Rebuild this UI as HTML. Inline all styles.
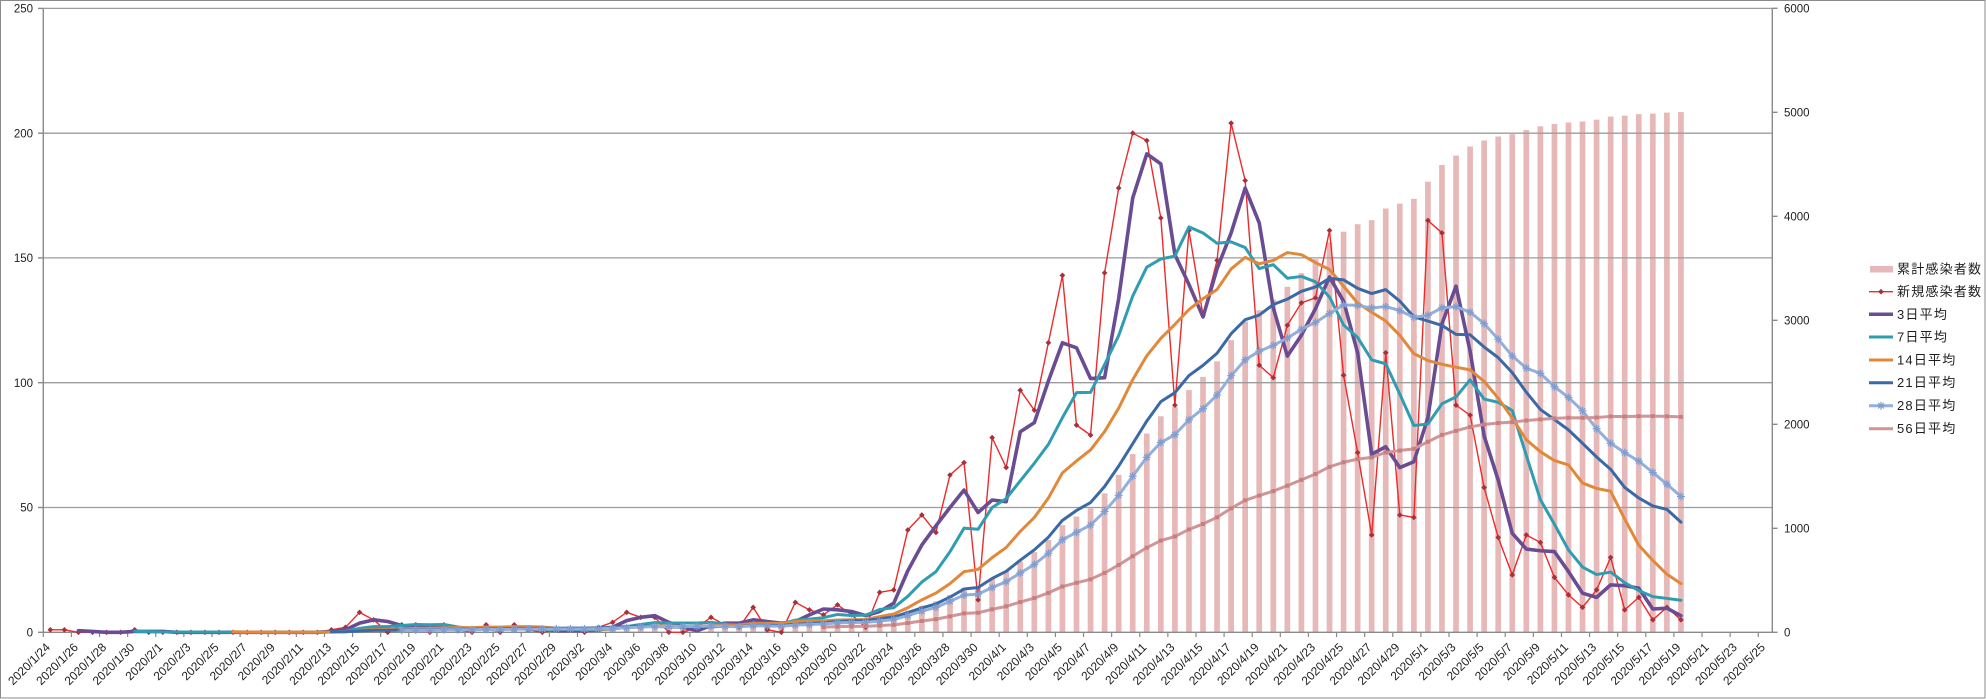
<!DOCTYPE html>
<html>
<head>
<meta charset="utf-8">
<style>
html,body{margin:0;padding:0;background:#fff;}
body{width:1986px;height:699px;overflow:hidden;}
svg{display:block;}
.ax{font-family:"Liberation Sans","Noto Sans CJK JP",sans-serif;font-size:11.5px;fill:#1e1e1e;}
.xl{font-family:"Liberation Sans","Noto Sans CJK JP",sans-serif;font-size:12px;fill:#1e1e1e;}
.lg{font-family:"Liberation Sans","Noto Sans CJK JP",sans-serif;font-size:13px;fill:#1e1e1e;letter-spacing:1.2px;}
</style>
</head>
<body>
<svg id="chart" width="1986" height="699" viewBox="0 0 1986 699" xmlns="http://www.w3.org/2000/svg">
<rect x="0.5" y="0.5" width="1984.5" height="697.5" fill="#fff" stroke="#8a8a8a" stroke-width="1"/>
<g id="bars"></g>
<!-- gridlines -->
<g stroke="#9c9c9c" stroke-width="1.3">
<line x1="43.3" y1="8.4" x2="1772.3" y2="8.4"/>
<line x1="43.3" y1="133.2" x2="1772.3" y2="133.2"/>
<line x1="43.3" y1="257.9" x2="1772.3" y2="257.9"/>
<line x1="43.3" y1="382.7" x2="1772.3" y2="382.7"/>
<line x1="43.3" y1="507.5" x2="1772.3" y2="507.5"/>
</g>
<!-- axes -->
<g stroke="#8a8a8a" stroke-width="1.4">
<line x1="43.3" y1="8.4" x2="43.3" y2="632.3"/>
<line x1="1772.3" y1="8.4" x2="1772.3" y2="632.3"/>
<line x1="43.3" y1="632.3" x2="1772.3" y2="632.3"/>
<line x1="38" y1="8.4" x2="43.3" y2="8.4"/>
<line x1="38" y1="133.2" x2="43.3" y2="133.2"/>
<line x1="38" y1="257.9" x2="43.3" y2="257.9"/>
<line x1="38" y1="382.7" x2="43.3" y2="382.7"/>
<line x1="38" y1="507.5" x2="43.3" y2="507.5"/>
<line x1="38" y1="632.3" x2="43.3" y2="632.3"/>
<line x1="1772.3" y1="8.3" x2="1777.5" y2="8.3"/>
<line x1="1772.3" y1="112.3" x2="1777.5" y2="112.3"/>
<line x1="1772.3" y1="216.3" x2="1777.5" y2="216.3"/>
<line x1="1772.3" y1="320.3" x2="1777.5" y2="320.3"/>
<line x1="1772.3" y1="424.3" x2="1777.5" y2="424.3"/>
<line x1="1772.3" y1="528.3" x2="1777.5" y2="528.3"/>
<line x1="1772.3" y1="632.3" x2="1777.5" y2="632.3"/>
</g>
<g id="xticks" stroke="#8a8a8a" stroke-width="1.2"></g>
<g id="lines"></g>

<!-- left axis labels -->
<g class="ax" text-anchor="end">
<text x="33" y="12.5">250</text>
<text x="33" y="137.3">200</text>
<text x="33" y="262">150</text>
<text x="33" y="386.8">100</text>
<text x="33" y="511.6">50</text>
<text x="33" y="636.4">0</text>
</g>
<!-- right axis labels -->
<g class="ax" text-anchor="start">
<text x="1784" y="12.4">6000</text>
<text x="1784" y="116.4">5000</text>
<text x="1784" y="220.4">4000</text>
<text x="1784" y="324.4">3000</text>
<text x="1784" y="428.4">2000</text>
<text x="1784" y="532.4">1000</text>
<text x="1784" y="636.4">0</text>
</g>
<!-- x axis labels -->
<g class="xl" text-anchor="end" transform="translate(-2.5,2)">
<text transform="translate(53.3,646) rotate(-45)">2020/1/24</text>
<text transform="translate(81.4,646) rotate(-45)">2020/1/26</text>
<text transform="translate(109.6,646) rotate(-45)">2020/1/28</text>
<text transform="translate(137.7,646) rotate(-45)">2020/1/30</text>
<text transform="translate(165.8,646) rotate(-45)">2020/2/1</text>
<text transform="translate(193.9,646) rotate(-45)">2020/2/3</text>
<text transform="translate(222.0,646) rotate(-45)">2020/2/5</text>
<text transform="translate(250.1,646) rotate(-45)">2020/2/7</text>
<text transform="translate(278.2,646) rotate(-45)">2020/2/9</text>
<text transform="translate(306.4,646) rotate(-45)">2020/2/11</text>
<text transform="translate(334.5,646) rotate(-45)">2020/2/13</text>
<text transform="translate(362.6,646) rotate(-45)">2020/2/15</text>
<text transform="translate(390.7,646) rotate(-45)">2020/2/17</text>
<text transform="translate(418.8,646) rotate(-45)">2020/2/19</text>
<text transform="translate(446.9,646) rotate(-45)">2020/2/21</text>
<text transform="translate(475.0,646) rotate(-45)">2020/2/23</text>
<text transform="translate(503.1,646) rotate(-45)">2020/2/25</text>
<text transform="translate(531.3,646) rotate(-45)">2020/2/27</text>
<text transform="translate(559.4,646) rotate(-45)">2020/2/29</text>
<text transform="translate(587.5,646) rotate(-45)">2020/3/2</text>
<text transform="translate(615.6,646) rotate(-45)">2020/3/4</text>
<text transform="translate(643.7,646) rotate(-45)">2020/3/6</text>
<text transform="translate(671.8,646) rotate(-45)">2020/3/8</text>
<text transform="translate(699.9,646) rotate(-45)">2020/3/10</text>
<text transform="translate(728.1,646) rotate(-45)">2020/3/12</text>
<text transform="translate(756.2,646) rotate(-45)">2020/3/14</text>
<text transform="translate(784.3,646) rotate(-45)">2020/3/16</text>
<text transform="translate(812.4,646) rotate(-45)">2020/3/18</text>
<text transform="translate(840.5,646) rotate(-45)">2020/3/20</text>
<text transform="translate(868.6,646) rotate(-45)">2020/3/22</text>
<text transform="translate(896.7,646) rotate(-45)">2020/3/24</text>
<text transform="translate(924.9,646) rotate(-45)">2020/3/26</text>
<text transform="translate(953.0,646) rotate(-45)">2020/3/28</text>
<text transform="translate(981.1,646) rotate(-45)">2020/3/30</text>
<text transform="translate(1009.2,646) rotate(-45)">2020/4/1</text>
<text transform="translate(1037.3,646) rotate(-45)">2020/4/3</text>
<text transform="translate(1065.4,646) rotate(-45)">2020/4/5</text>
<text transform="translate(1093.5,646) rotate(-45)">2020/4/7</text>
<text transform="translate(1121.7,646) rotate(-45)">2020/4/9</text>
<text transform="translate(1149.8,646) rotate(-45)">2020/4/11</text>
<text transform="translate(1177.9,646) rotate(-45)">2020/4/13</text>
<text transform="translate(1206.0,646) rotate(-45)">2020/4/15</text>
<text transform="translate(1234.1,646) rotate(-45)">2020/4/17</text>
<text transform="translate(1262.2,646) rotate(-45)">2020/4/19</text>
<text transform="translate(1290.3,646) rotate(-45)">2020/4/21</text>
<text transform="translate(1318.5,646) rotate(-45)">2020/4/23</text>
<text transform="translate(1346.6,646) rotate(-45)">2020/4/25</text>
<text transform="translate(1374.7,646) rotate(-45)">2020/4/27</text>
<text transform="translate(1402.8,646) rotate(-45)">2020/4/29</text>
<text transform="translate(1430.9,646) rotate(-45)">2020/5/1</text>
<text transform="translate(1459.0,646) rotate(-45)">2020/5/3</text>
<text transform="translate(1487.1,646) rotate(-45)">2020/5/5</text>
<text transform="translate(1515.3,646) rotate(-45)">2020/5/7</text>
<text transform="translate(1543.4,646) rotate(-45)">2020/5/9</text>
<text transform="translate(1571.5,646) rotate(-45)">2020/5/11</text>
<text transform="translate(1599.6,646) rotate(-45)">2020/5/13</text>
<text transform="translate(1627.7,646) rotate(-45)">2020/5/15</text>
<text transform="translate(1655.8,646) rotate(-45)">2020/5/17</text>
<text transform="translate(1683.9,646) rotate(-45)">2020/5/19</text>
<text transform="translate(1712.1,646) rotate(-45)">2020/5/21</text>
<text transform="translate(1740.2,646) rotate(-45)">2020/5/23</text>
<text transform="translate(1768.3,646) rotate(-45)">2020/5/25</text>
</g>

<!-- legend -->
<g>
<rect x="1870" y="266" width="23" height="6.5" fill="#E6B9B8"/>
<line x1="1869" y1="291.7" x2="1893" y2="291.7" stroke="#EE2A2A" stroke-width="1.4"/>
<rect x="1879" y="289.7" width="4" height="4" fill="#A8303A" transform="rotate(45 1881 291.7)"/>
<line x1="1869" y1="314.3" x2="1893" y2="314.3" stroke="#6A4C93" stroke-width="3.5"/>
<line x1="1869" y1="337" x2="1893" y2="337" stroke="#2F9DB1" stroke-width="3"/>
<line x1="1869" y1="360" x2="1893" y2="360" stroke="#E2883A" stroke-width="3"/>
<line x1="1869" y1="382.7" x2="1893" y2="382.7" stroke="#3B69A6" stroke-width="3"/>
<line x1="1869" y1="405.7" x2="1893" y2="405.7" stroke="#93AFDB" stroke-width="3"/>
<path d="M1881 401.7 V409.7 M1877 405.7 H1885 M1878.2 402.9 L1883.8 408.5 M1883.8 402.9 L1878.2 408.5" stroke="#7F9DCF" stroke-width="1.2"/>
<line x1="1869" y1="428.7" x2="1893" y2="428.7" stroke="#D29494" stroke-width="3"/>
</g>
<g class="lg">
<text x="1897" y="273.5">累計感染者数</text>
<text x="1897" y="296.2">新規感染者数</text>
<text x="1897" y="318.8">3日平均</text>
<text x="1897" y="341.5">7日平均</text>
<text x="1897" y="364.5">14日平均</text>
<text x="1897" y="387.2">21日平均</text>
<text x="1897" y="410.2">28日平均</text>
<text x="1897" y="433.2">56日平均</text>
</g>
</svg>
<script>
(function(){
var d=[1,1,0,0,0,0,1,0,
0,0,0,0,0,0,0,0,0,0,0,0,1,2,8,5,0,3,3,0,3,1,0,3,0,3,1,0,1,
1,0,2,4,8,6,6,0,0,2,6,3,2,10,1,0,12,9,7,11,7,2,16,17,41,47,40,63,68,13,78,
66,97,89,116,143,83,79,144,178,200,197,166,91,161,127,149,204,181,107,102,123,132,134,161,103,72,39,112,47,46,
165,160,91,87,58,38,23,39,36,22,15,10,17,30,9,14,5,10,5];
function X(i){return 43.3+14.057*(i+0.5);}
function Y(v){return 632.3-v*2.496;}
function YR(c){return 632.3-c*0.104;}
var bars="",cum=0,i;
for(i=0;i<d.length;i++){cum+=d[i];var y=YR(cum);bars+='<rect x="'+(X(i)-2.85).toFixed(2)+'" y="'+y.toFixed(2)+'" width="5.7" height="'+(632.3-y).toFixed(2)+'" fill="#E6B9B8"/>';}
document.getElementById("bars").innerHTML=bars;
var tk="";
for(i=0;i<=122;i+=2){var xx=(43.3+14.057*i).toFixed(2);tk+='<line x1="'+xx+'" y1="632.3" x2="'+xx+'" y2="637"/>';}
document.getElementById("xticks").innerHTML=tk;
function ma(n){var r=[];for(var k=n-1;k<d.length;k++){var t=0;for(var j=k-n+1;j<=k;j++)t+=d[j];r.push([X(k),Y(t/n)]);}return r;}
function pts(a){return a.map(function(p){return p[0].toFixed(2)+","+p[1].toFixed(2);}).join(" ");}
function pl(a,c,w){return '<polyline points="'+pts(a)+'" fill="none" stroke="'+c+'" stroke-width="'+w+'" stroke-linejoin="round" stroke-linecap="round"/>';}
var s="";
var red=[];for(i=0;i<d.length;i++)red.push([X(i),Y(d[i])]);
s+=pl(red,"#EE2A2A",1.4);
red.forEach(function(p){s+='<rect x="'+(p[0]-2).toFixed(2)+'" y="'+(p[1]-2).toFixed(2)+'" width="4" height="4" fill="#A8303A" transform="rotate(45 '+p[0].toFixed(2)+' '+p[1].toFixed(2)+')"/>';});
s+=pl(ma(3),"#6A4C93",3.6);
s+=pl(ma(7),"#2F9DB1",3);
s+=pl(ma(14),"#E2883A",3);
s+=pl(ma(21),"#3B69A6",3);
var m28=ma(26);
s+=pl(m28,"#93AFDB",3);
m28.forEach(function(p){var x=p[0],y=p[1];s+='<path d="M'+x.toFixed(2)+' '+(y-4).toFixed(2)+' V'+(y+4).toFixed(2)+' M'+(x-4).toFixed(2)+' '+y.toFixed(2)+' H'+(x+4).toFixed(2)+' M'+(x-2.8).toFixed(2)+' '+(y-2.8).toFixed(2)+' L'+(x+2.8).toFixed(2)+' '+(y+2.8).toFixed(2)+' M'+(x+2.8).toFixed(2)+' '+(y-2.8).toFixed(2)+' L'+(x-2.8).toFixed(2)+' '+(y+2.8).toFixed(2)+'" stroke="#7F9DCF" stroke-width="1.2" fill="none"/>';});
var m56=ma(56);
s+=pl(m56,"#D29494",3);
m56.forEach(function(p){s+='<rect x="'+(p[0]-2).toFixed(2)+'" y="'+(p[1]-2).toFixed(2)+'" width="4" height="4" fill="#C48080"/>';});
document.getElementById("lines").innerHTML=s;
})();
</script>
</body>
</html>
